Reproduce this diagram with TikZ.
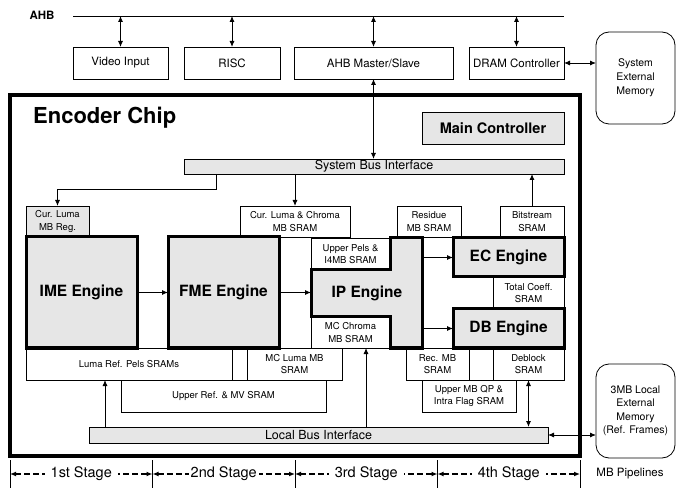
\documentclass[tikz,border=0pt]{standalone}
\usepackage{fontspec}
\setmainfont{TeX Gyre Heros}
\usetikzlibrary{arrows.meta}
\definecolor{lg}{HTML}{E6E6E6}
\newcommand{\bx}[7][]{\node[box,#1,minimum width={(#5)-(#3)},minimum height={(#6)-(#4)}] (#2) at ({((#3)+(#5))/2},{((#4)+(#6))/2}) {#7};}
\tikzset{
  box/.style={draw,line width=0.8pt,inner sep=0pt,outer sep=0pt,align=center,font=\fontsize{9.5}{12.5}\selectfont},
  toplbl/.style={font=\fontsize{11.5}{13}\selectfont},
  gfill/.style={fill=lg},
  engine/.style={fill=lg,line width=3pt,font=\bfseries\fontsize{15.5}{18}\selectfont},
  busl/.style={fill=lg,font=\fontsize{12.5}{14}\selectfont},
  arr/.style={line width=0.9pt,-{Latex[length=6pt,width=5pt]}},
  darr/.style={line width=0.9pt,{Latex[length=6pt,width=5pt]}-{Latex[length=6pt,width=5pt]}},
  stg/.style={line width=1.2pt,dash pattern=on 6pt off 3pt,{Latex[length=6pt,width=5pt]}-{Latex[length=6pt,width=5pt]}},
  stgtxt/.style={fill=white,inner xsep=6pt,inner ysep=1pt,font=\fontsize{14.5}{16}\selectfont},
}
\begin{document}
\begin{tikzpicture}[x=1pt,y=-1pt]
\useasboundingbox (0,0) rectangle (686,497);
% AHB bus
\node[font=\bfseries\fontsize{11.5}{13}\selectfont] (ahb) at (42,15) {AHB};
\coordinate (ahbL) at (73,16);
\coordinate (ahbR) at (564,16);
\draw[line width=0.8pt] (ahbL) -- (ahbR);
% top boxes
\bx[toplbl]{vi}{73}{47}{168}{79}{Video Input}
\bx[toplbl]{risc}{184}{47}{280}{79}{RISC}
\bx[toplbl]{ahbms}{294}{47}{453}{79}{AHB Master/Slave}
\bx[toplbl]{dram}{469}{47}{564}{79}{DRAM Controller}
\bx[toplbl,rounded corners=13pt,font=\fontsize{10.5}{14}\selectfont]{sem}{596}{32}{675}{124}{System\\External\\Memory}
\bx[toplbl,rounded corners=13pt,font=\fontsize{10.5}{13.5}\selectfont]{lem}{596}{364}{675}{458}{3MB Local\\External\\Memory\\(Ref. Frames)}
\foreach \n in {vi,risc,ahbms,dram} \draw[darr] (\n.north |- ahbL) -- (\n.north);
\draw[darr] (dram.east) -- (sem.west |- dram.east);
% encoder chip
\bx[line width=3.5pt]{enc}{10}{95}{580}{456}{}
\node[anchor=west,inner sep=0pt,font=\bfseries\fontsize{22}{24}\selectfont] (title) at (33,118) {Encoder Chip};
\bx[gfill,font=\bfseries\fontsize{14.5}{16}\selectfont]{mc}{422}{112}{564}{144}{Main Controller}
\bx[busl]{sbi}{184}{159}{564}{174}{System Bus Interface}
% upper memories
\bx[gfill]{curreg}{26}{206}{89}{237}{Cur. Luma\\MB Reg.}
\bx{clc}{240}{206}{350}{237}{Cur. Luma \& Chroma\\MB SRAM}
\bx{res}{397}{206}{461}{237}{Residue\\MB SRAM}
\bx{bits}{500}{206}{564}{237}{Bitstream\\SRAM}
\bx{upel}{311}{238}{390}{270}{Upper Pels \&\\I4MB SRAM}
\bx{mcc}{311}{317}{390}{348}{MC Chroma\\MB SRAM}
\bx{tcs}{493}{277}{564}{309}{Total Coeff.\\SRAM}
% lower memories
\bx{lref}{26}{348}{232}{380}{Luma Ref. Pels SRAMs}
\bx{gapa}{232}{348}{247}{380}{}
\bx{mcl}{247}{348}{342}{380}{MC Luma MB\\SRAM}
\bx{rec}{406}{348}{469}{380}{Rec. MB\\SRAM}
\bx{gapb}{469}{348}{493}{380}{}
\bx{dbs}{493}{348}{564}{380}{Deblock\\SRAM}
\bx{uref}{121}{380}{326}{412}{Upper Ref. \& MV SRAM}
\bx{uqp}{422}{380}{516}{412}{Upper MB QP \&\\Intra Flag SRAM}
\bx[busl]{lbi}{89}{427}{548}{443}{Local Bus Interface}
% engines
\bx[engine]{ime}{26}{237}{137}{348}{IME Engine}
\bx[engine]{fme}{168}{237}{279}{348}{FME Engine}
\bx[engine]{ec}{453}{238}{564}{277}{EC Engine}
\bx[engine]{db}{453}{309}{564}{348}{DB Engine}
\draw[fill=lg,line width=3pt,line join=miter] (311,270) -- (390,270) -- (390,238) -- (422,238) -- (422,348) -- (390,348) -- (390,317) -- (311,317) -- cycle;
\node[inner sep=0pt,font=\bfseries\fontsize{15.5}{18}\selectfont] (ip) at (367,293) {IP Engine};
\coordinate (ipW) at (311,292.5);
\coordinate (ipE) at (422,292.5);
% connectors
\draw[arr] (ime.east) -- (fme.west);
\draw[arr] (fme.east) -- (ipW);
\draw[arr] (ipE |- ec.west) -- (ec.west);
\draw[arr] (ipE |- db.west) -- (db.west);
\draw[darr] (ahbms.south) -- (ahbms.south |- sbi.north);
\draw[arr] ([xshift=32pt]sbi.south west) -- ++(0,15) -| (curreg.north);
\draw[arr] (sbi.south -| clc.north) -- (clc.north);
\draw[arr] (bits.north) -- (bits.north |- sbi.south);
\draw[arr] ([xshift=16pt]lbi.north west) coordinate (la) -- (la |- lref.south);
\draw[arr] ([xshift=277pt]lbi.north west) coordinate (lb) -- (lb |- mcc.south);
\draw[darr] (dbs.south) -- (dbs.south |- lbi.north);
\draw[darr] (lbi.east) -- (lem.west |- lbi.east);
% stages
\coordinate (s0) at (10,474);
\coordinate (s1) at (152.5,474);
\coordinate (s2) at (295,474);
\coordinate (s3) at (437.5,474);
\coordinate (s4) at (580,474);
\foreach \s in {s0,s1,s2,s3,s4} \draw[line width=0.8pt] (\s) ++(0,-14) -- ++(0,28);
\draw[stg] (s0) -- (s1) node[midway,stgtxt] (st1) {1st Stage};
\draw[stg] (s1) -- (s2) node[midway,stgtxt,inner xsep=2pt] (st2) {2nd Stage};
\draw[stg] (s2) -- (s3) node[midway,stgtxt] (st3) {3rd Stage};
\draw[stg] (s3) -- (s4) node[midway,stgtxt] (st4) {4th Stage};
\node[font=\fontsize{11.5}{13}\selectfont] (mbp) at (630,474) {MB Pipelines};
\end{tikzpicture}
\end{document}
